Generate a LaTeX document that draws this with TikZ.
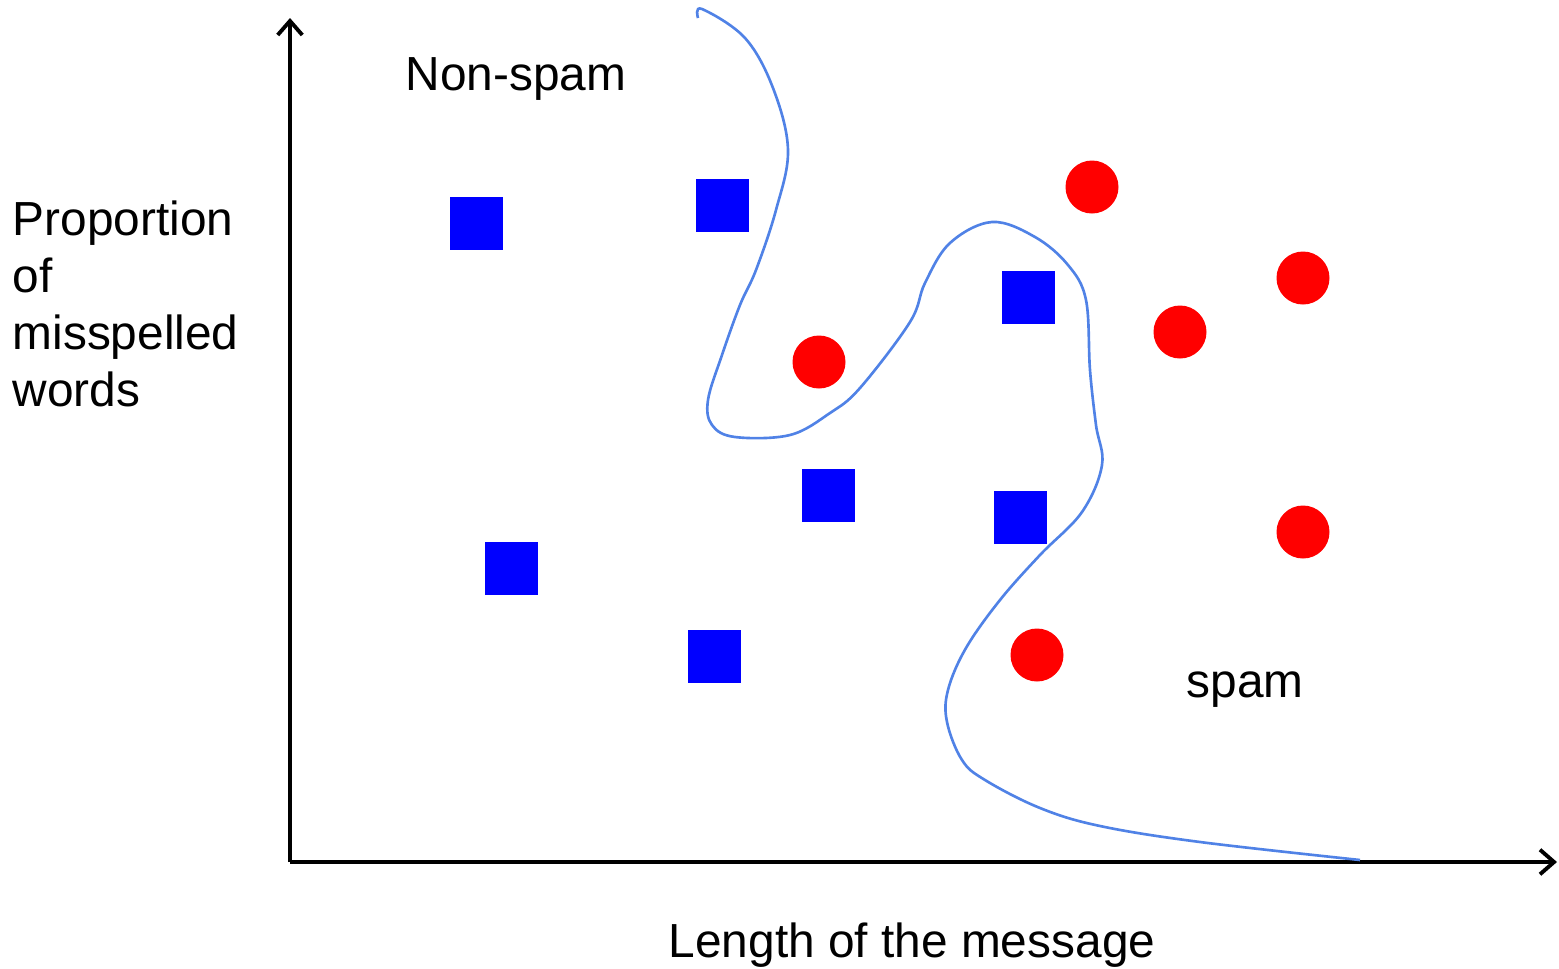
\documentclass[tikz,border=0pt]{standalone}
\usepackage{fontspec}
\setmainfont{Liberation Sans}
\usetikzlibrary{arrows.meta}
\definecolor{spamred}{RGB}{255,0,0}
\definecolor{hamblue}{RGB}{0,0,255}
\definecolor{edgeblue}{RGB}{80,130,230}
\newlength{\pxu}
\setlength{\pxu}{0.01cm}
\tikzset{
  ham/.style={fill=hamblue,minimum size=53\pxu,inner sep=0pt,rectangle},
  spam/.style={fill=spamred,minimum size=53\pxu,inner sep=0pt,circle},
  axis/.style={line width=1.1pt,-{Straight Barb[length=4pt,width=7pt,line width=1.1pt]}},
  lbl/.style={anchor=base west,inner sep=0pt,font=\fontsize{13.6}{16.2}\selectfont}
}
\begin{document}
\begin{tikzpicture}[x=0.01cm,y=-0.01cm]
    \useasboundingbox (0,0) rectangle (1559,969);

    \coordinate (o) at (290,862);
    \coordinate (ytop) at (290,18);
    \coordinate (xend) at (1557,862);
    \draw[axis] (o) -- (ytop);
    \draw[axis] (o) -- (xend);

    \node[lbl,align=left] (ylab) at (12,406) {Proportion\\of\\misspelled\\words};
    \node[lbl] (xlab) at (668,957) {Length of the message};
    \node[lbl] (nonspam) at (405,90) {Non-spam};
    \node[lbl] (spamlab) at (1186,697) {spam};

    \node[ham] (h1) at (476,223) {};
    \node[ham] (h2) at (722,205) {};
    \node[ham] (h3) at (1028,297) {};
    \node[ham] (h4) at (828,495) {};
    \node[ham] (h5) at (1020,517) {};
    \node[ham] (h6) at (511,568) {};
    \node[ham] (h7) at (714,656) {};

    \node[spam] (s1) at (1092,187) {};
    \node[spam] (s2) at (1303,278) {};
    \node[spam] (s3) at (1180,332) {};
    \node[spam] (s4) at (819,362) {};
    \node[spam] (s5) at (1303,532) {};
    \node[spam] (s6) at (1037,655) {};

    % hand drawn boundary
    \draw[edgeblue,line width=0.75pt] plot[smooth,tension=0.6] coordinates {
        (698,18) (702,9) (745,38) (773,88) (788,150) (776,210) (756,270)
        (740,305) (722,355) (708,400) (712,425) (735,437) (790,435)
        (830,413) (860,388) (910,322) (925,283) (950,243) (992,222)
        (1035,237) (1068,265) (1086,300) (1090,370) (1096,425) (1102,465)
        (1082,512) (1040,555) (1000,600) (966,648) (948,690) (947,722)
        (962,760) (985,780) (1040,808) (1100,826) (1200,842) (1360,860)};
\end{tikzpicture}
\end{document}
